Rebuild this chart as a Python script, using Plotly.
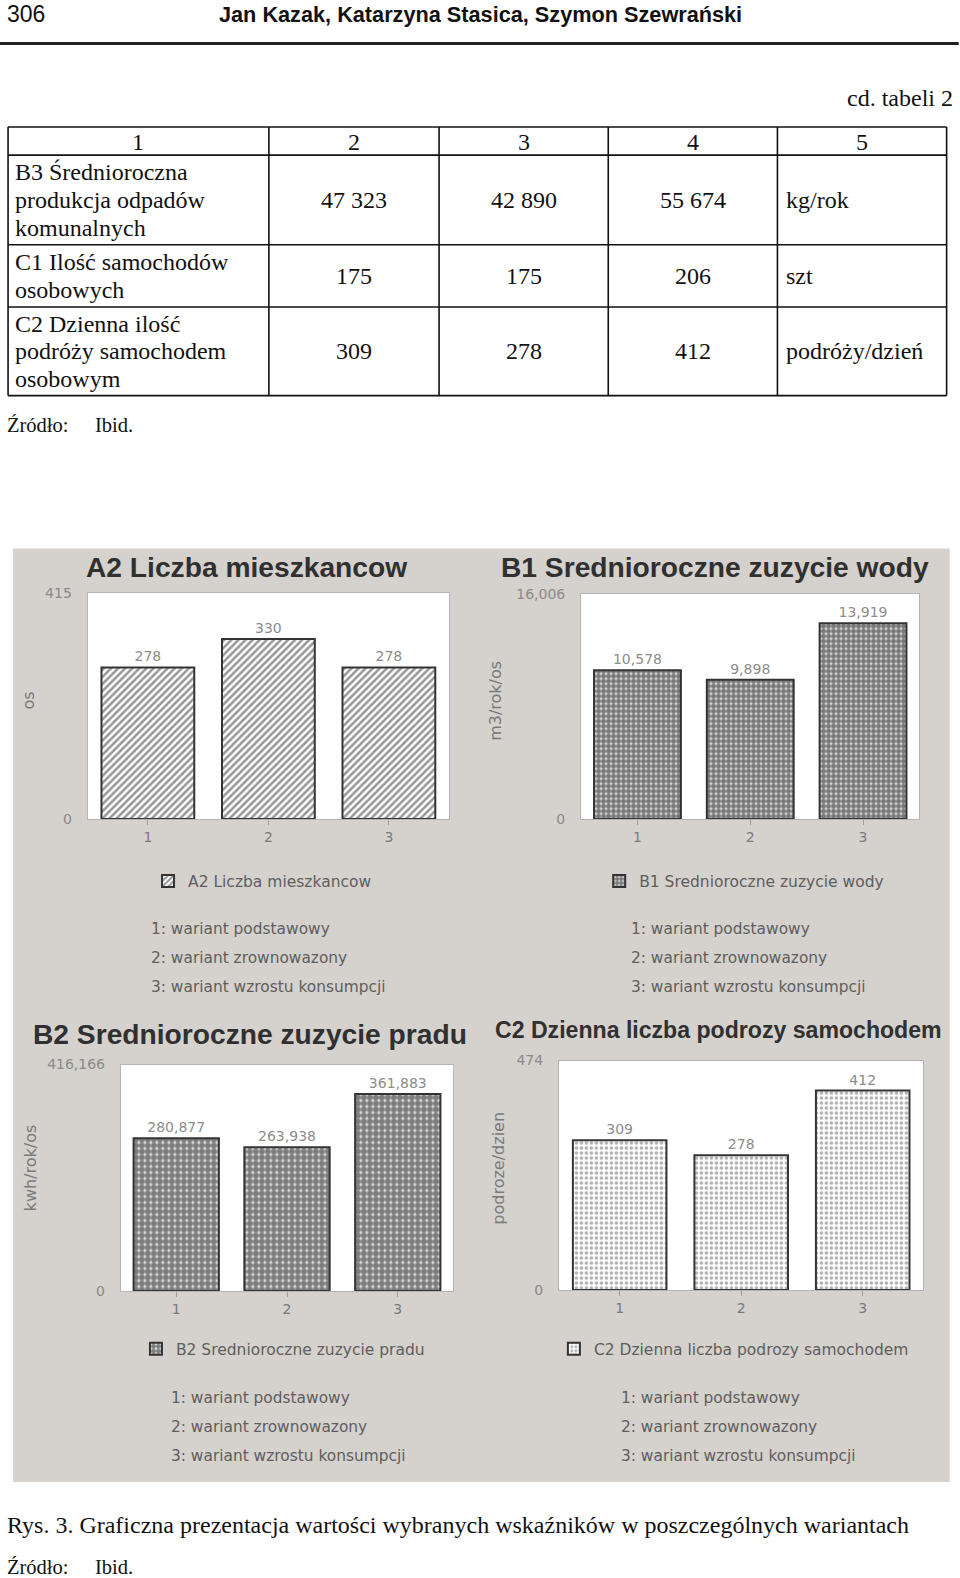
import plotly.graph_objects as go

# ---------------- data ----------------
page_number = "306"
page_authors = "Jan Kazak, Katarzyna Stasica, Szymon Szewrański"
table_caption = "cd. tabeli 2"
table_header = ["1", "2", "3", "4", "5"]
table_indicators = [
    ["B3 Średnioroczna", "produkcja odpadów", "komunalnych"],
    ["C1 Ilość samochodów", "osobowych"],
    ["C2 Dzienna ilość", "podróży samochodem", "osobowym"],
]
table_variant1 = ["47 323", "175", "309"]
table_variant2 = ["42 890", "175", "278"]
table_variant3 = ["55 674", "206", "412"]
table_units = ["kg/rok", "szt", "podróży/dzień"]
source_label = "Źródło:"
source_text = "Ibid."
figure_caption = "Rys. 3. Graficzna prezentacja wartości wybranych wskaźników w poszczególnych wariantach"

variants = ["1", "2", "3"]
variant_desc = ["1: wariant podstawowy", "2: wariant zrownowazony", "3: wariant wzrostu konsumpcji"]
chart_titles = ["A2 Liczba mieszkancow", "B1 Srednioroczne zuzycie wody",
                "B2 Srednioroczne zuzycie pradu", "C2 Dzienna liczba podrozy samochodem"]
chart_units = ["os", "m3/rok/os", "kwh/rok/os", "podroze/dzien"]
a2_values = [278, 330, 278]
b1_values = [10578, 9898, 13919]
b2_values = [280877, 263938, 361883]
c2_values = [309, 278, 412]
axis_max = [415, 16006, 416166, 474]

# ---------------- layout helpers ----------------
W, H = 960, 1578
# page-pixel -> paper mapping (small correction for how the page is photographed)
SX, OX = 0.993, 0.0
SY, OY = 0.984, 6.7
def X(px): return ((px - OX) / SX) / W
def Y(py): return 1 - ((py - OY) / SY) / H

SERIF = "Liberation Serif, Times New Roman, serif"
SANS = "Liberation Sans, Arial, sans-serif"
DEJA = "DejaVu Sans, Verdana, sans-serif"

fig = go.Figure()
shapes = []
annotations = []

def text(x, y, s, size, family=SERIF, color="#111", xanchor="center", yanchor="middle",
         align="center", angle=0, bold=False):
    annotations.append(dict(
        x=X(x), y=Y(y), xref="paper", yref="paper", text=("<b>%s</b>" % s) if bold else s,
        showarrow=False, xanchor=xanchor, yanchor=yanchor, align=align, textangle=angle,
        font=dict(family=family, size=size, color=color)))

def line(x0, y0, x1, y1, w=1.5, color="#111"):
    shapes.append(dict(type="line", xref="paper", yref="paper", x0=X(x0), y0=Y(y0),
                       x1=X(x1), y1=Y(y1), line=dict(color=color, width=w)))

def rect(x0, y0, x1, y1, fill, lw=0, lc="rgba(0,0,0,0)"):
    shapes.append(dict(type="rect", xref="paper", yref="paper", x0=X(x0), y0=Y(y0),
                       x1=X(x1), y1=Y(y1), fillcolor=fill, line=dict(width=lw, color=lc),
                       layer="below"))

# ---------------- page header ----------------
text(5, 13, page_number, 23, SANS, xanchor="left")
text(477, 13, page_authors, 21.7, SANS, bold=True)
line(0, 42, 952, 42, w=3, color="#222")
text(948, 96, table_caption, 24, SERIF, xanchor="right")

# ---------------- table ----------------
TS = 24
col_x = [8, 267, 436, 604, 772, 940]
row_y = [125, 153, 242, 304, 392]
for yy in row_y:
    line(col_x[0], yy, col_x[-1], yy, w=1.6)
for xx in col_x:
    line(xx, row_y[0], xx, row_y[-1], w=1.6)
for i, h in enumerate(table_header):
    text((col_x[i] + col_x[i + 1]) / 2, (row_y[0] + row_y[1]) / 2 + 1, h, TS)
for r in range(3):
    cy = (row_y[r + 1] + row_y[r + 2]) / 2
    lines = table_indicators[r]
    for k, ln in enumerate(lines):
        text(13, cy + (k - (len(lines) - 1) / 2) * 27.5, ln, TS, xanchor="left")
    for c, col in enumerate([table_variant1, table_variant2, table_variant3]):
        text((col_x[c + 1] + col_x[c + 2]) / 2, cy, col[r], TS)
    text(779, cy, table_units[r], TS, xanchor="left")
text(5, 421, source_label, 20.5, xanchor="left")
text(92, 421, source_text, 20.5, xanchor="left")

# ---------------- chart panel ----------------
rect(13, 544, 943, 1472, "#d5d1cd")

charts = [
    dict(vals=a2_values, box=(87, 588, 446, 813), title_xy=(245, 562), tsize=28.2,
         unit_xy=(28, 695), legend_xy=(147, 875), desc_xy=(148, 922),
         pattern=dict(shape="/", fgcolor="#2e2e2e", bgcolor="white", size=5, solidity=0.5)),
    dict(vals=b1_values, box=(577, 589, 913, 813), title_xy=(710, 562), tsize=28.2,
         unit_xy=(492, 695), legend_xy=(595, 875), desc_xy=(625, 922),
         pattern=dict(shape=".", fgcolor="#101010", bgcolor="#dedede", size=5, solidity=0.76)),
    dict(vals=b2_values, box=(120, 1057, 450, 1282), title_xy=(248, 1027), tsize=28.2,
         unit_xy=(30, 1160), legend_xy=(135, 1340), desc_xy=(168, 1388),
         pattern=dict(shape=".", fgcolor="#161616", bgcolor="#e2e2e2", size=6, solidity=0.75)),
    dict(vals=c2_values, box=(555, 1053, 917, 1281), title_xy=(713, 1023), tsize=23.1,
         unit_xy=(495, 1160), legend_xy=(550, 1340), desc_xy=(615, 1388),
         pattern=dict(shape=".", fgcolor="#5e5e5e", bgcolor="white", size=5, solidity=0.4)),
]

layout_axes = {}
for i, ch in enumerate(charts):
    n = "" if i == 0 else str(i + 1)
    x0, y0, x1, y1 = ch["box"]
    rect(x0, y0, x1, y1, "white")
    fig.add_trace(go.Bar(
        x=variants, y=ch["vals"], name=chart_titles[i], xaxis="x" + n, yaxis="y" + n,
        width=0.77, legend="legend" + n, showlegend=True,
        marker=dict(color="white", pattern=ch["pattern"], line=dict(color="#333333", width=2)),
        texttemplate="%{y:,}", textposition="outside", cliponaxis=False,
        textfont=dict(family=DEJA, size=14, color="#8c8c8c"),
        hoverinfo="skip"))
    layout_axes["xaxis" + n] = dict(
        domain=[X(x0), X(x1)], anchor="y" + n, type="category", showgrid=False,
        showline=True, mirror=True, linecolor="#b5b5b5", linewidth=1,
        ticks="outside", ticklen=5, tickcolor="#9a9a9a",
        tickfont=dict(family=DEJA, size=14, color="#7a7a7a"), fixedrange=True)
    layout_axes["yaxis" + n] = dict(
        domain=[Y(y1), Y(y0)], anchor="x" + n, range=[0, axis_max[i]],
        tickvals=[0, axis_max[i]], ticktext=["0", f"{axis_max[i]:,}"],
        showgrid=False, zeroline=False, showline=True, mirror=True,
        linecolor="#b5b5b5", linewidth=1, ticks="outside", ticklen=12,
        tickcolor="rgba(0,0,0,0)", tickfont=dict(family=DEJA, size=14, color="#8a8a8a"),
        fixedrange=True)
    layout_axes["legend" + n] = dict(
        x=X(ch["legend_xy"][0]), y=Y(ch["legend_xy"][1]), xanchor="left", yanchor="middle",
        bgcolor="rgba(0,0,0,0)", borderwidth=0,
        font=dict(family=DEJA, size=15.5, color="#5e5e5e"))
    text(ch["title_xy"][0], ch["title_xy"][1], chart_titles[i], ch["tsize"], SANS,
         color="#303030", bold=True)
    text(ch["unit_xy"][0], ch["unit_xy"][1], chart_units[i], 16, DEJA, color="#7a7a7a", angle=-90)
    for k, d in enumerate(variant_desc):
        text(ch["desc_xy"][0], ch["desc_xy"][1] + 29 * k, d, 15.4, DEJA, color="#5e5e5e",
             xanchor="left")

# ---------------- caption ----------------
text(5, 1515, figure_caption, 24, xanchor="left")
text(5, 1556, source_label, 20.5, xanchor="left")
text(92, 1556, source_text, 20.5, xanchor="left")

fig.update_layout(
    width=W, height=H, margin=dict(l=0, r=0, t=0, b=0),
    paper_bgcolor="white", plot_bgcolor="rgba(0,0,0,0)", showlegend=True,
    shapes=shapes, annotations=annotations,
    **layout_axes)

page_fix = (
    "var gd=document.getElementById('{plot_id}');"
    "var de=document.documentElement, b=document.body;"
    "de.style.margin='0';de.style.padding='0';de.style.overflow='hidden';"
    "b.style.margin='0';b.style.padding='0';b.style.overflow='hidden';"
    "gd.style.position='absolute';gd.style.left='0px';gd.style.top='0px';"
)
fig.write_html("out.html", config={"displayModeBar": False}, post_script=page_fix)
